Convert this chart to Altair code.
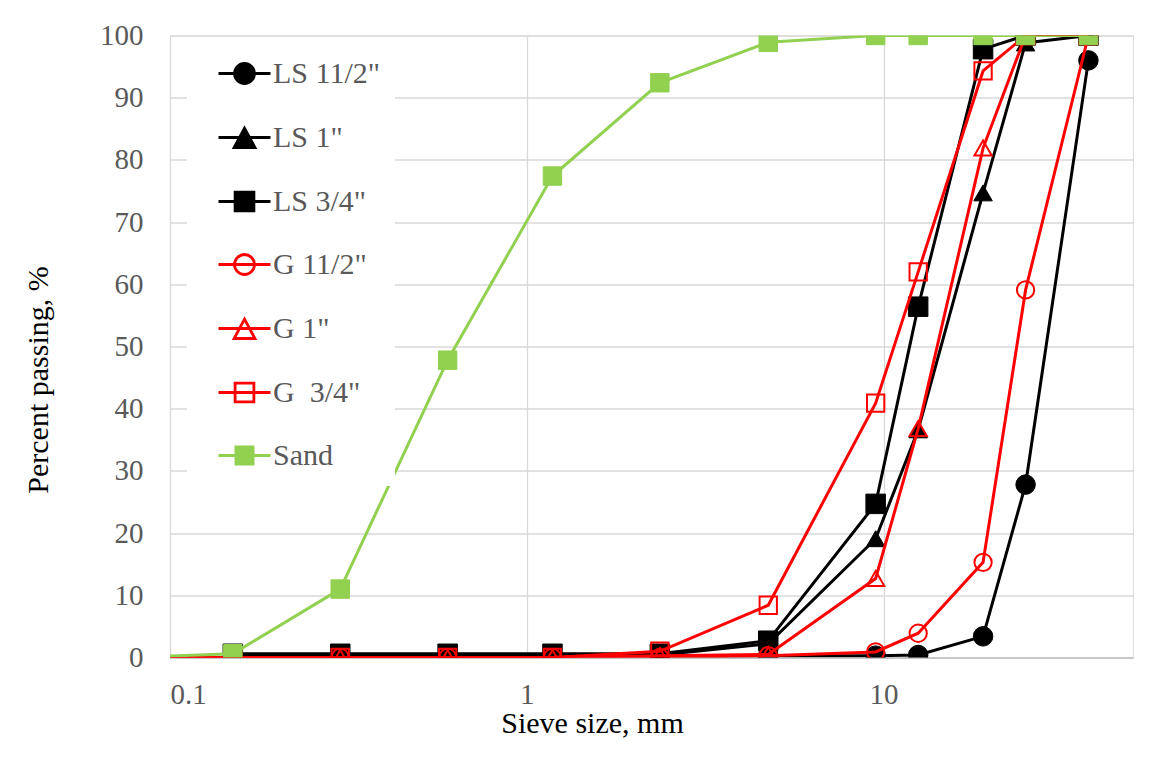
import altair as alt
import pandas as pd

# ---- data ----
sieve_mm = [0.075, 0.15, 0.3, 0.6, 1.18, 2.36, 4.75, 9.5, 12.5, 19, 25, 37.5]
series_names = ['LS 11/2"', 'LS 1"', 'LS 3/4"', 'G 11/2"', 'G 1"', 'G\u00a0 3/4"', 'Sand']
ls_1_5 = [None, 0.3, 0.3, 0.3, 0.3, 0.3, 0.3, 0.3, 0.4, 3.4, 27.8, 96.0]
ls_1 = [None, 0.4, 0.4, 0.4, 0.4, 0.4, 2.2, 19.1, 36.6, 74.7, 98.8, 100]
ls_3_4 = [None, 0.6, 0.6, 0.6, 0.6, 0.6, 2.7, 24.7, 56.4, 97.8, 100, 100]
g_1_5 = [0, 0, 0, 0, 0, 0, 0.3, 0.9, 3.9, 15.3, 59.1, 100]
g_1 = [0, 0, 0, 0, 0, 0.3, 0.5, 12.7, 36.8, 81.9, 100, 100]
g_3_4 = [0, 0, 0, 0, 0, 1.0, 8.4, 40.9, 62.0, 94.3, 100, 100]
sand = [0, 0.6, 11.0, 47.8, 77.4, 92.4, 98.9, 100, 100, 100, 100, 100]
x_ticks = [0.1, 1, 10]
y_ticks = [0, 10, 20, 30, 40, 50, 60, 70, 80, 90, 100]

values = [ls_1_5, ls_1, ls_3_4, g_1_5, g_1, g_3_4, sand]
rows = []
for name, vals in zip(series_names, values):
    for s, v in zip(sieve_mm, vals):
        if v is not None:
            rows.append({"series": name, "size": s, "pct": v})
df = pd.DataFrame(rows)

# ---- styles ----
BLACK, RED, GREEN = "#000000", "#FF0000", "#92D050"
colors = [BLACK, BLACK, BLACK, RED, RED, RED, GREEN]
shapes = ["circle", "triangle-up", "square", "circle", "triangle-up", "square", "square"]
filled = [True, True, True, False, False, False, True]
sizes = [380, 340, 380, 300, 300, 300, 340]

xscale = alt.Scale(type="log", domain=[0.1, 50], nice=False)
yscale = alt.Scale(domain=[0, 100], nice=False)

FONT = "Liberation Serif"

x_enc = alt.X(
    "size:Q", scale=xscale,
    axis=alt.Axis(
        values=x_ticks, labelExpr="format(datum.value, '~g')",
        title="Sieve size, mm", titleFont=FONT, titleFontSize=30, titleFontWeight="normal",
        titleColor="#000000", titleX=422, titleY=75, titleBaseline="alphabetic",
        titleAnchor="start", titleAlign="center",
        labelFont=FONT, labelFontSize=29, labelColor="#595959", labelPadding=23,
        ticks=False, domain=True, domainColor="#BFBFBF", domainWidth=1.3,
        grid=True, gridColor="#D9D9D9", gridWidth=1.3,
    ),
)
y_enc = alt.Y(
    "pct:Q", scale=yscale,
    axis=alt.Axis(
        values=y_ticks,
        title="Percent passing, %", titleFont=FONT, titleFontSize=30, titleFontWeight="normal",
        titleColor="#000000", titleX=-123, titleY=344, titleBaseline="alphabetic",
        titleAlign="center", titleAngle=270,
        labelFont=FONT, labelFontSize=29, labelColor="#595959", labelPadding=27,
        ticks=False, domain=False,
        grid=True, gridColor="#D9D9D9", gridWidth=1.3,
    ),
)

base = alt.Chart(df)
layers = []
for name, c, shp, fl, sz in zip(series_names, colors, shapes, filled, sizes):
    sub = base.transform_filter(alt.datum.series == name)
    line = sub.mark_line(color=c, strokeWidth=3, clip=True).encode(x=x_enc, y=y_enc)
    if fl:
        pt = sub.mark_point(shape=shp, filled=True, fill=c, stroke=c, strokeWidth=1,
                            size=sz, opacity=1, clip=True)
    else:
        pt = sub.mark_point(shape=shp, filled=False, fill="transparent", stroke=c,
                            strokeWidth=2, size=sz, opacity=1, clip=True)
    layers += [line, pt.encode(x=x_enc, y=y_enc)]

# ---- legend (symbols: line segment + marker) ----
circ = "M-1.3,0H1.3M0.5,0A0.5,0.5,0,1,1,-0.5,0A0.5,0.5,0,1,1,0.5,0Z"
tri = "M-1.3,0H1.3M0,-0.47L0.52,0.5L-0.52,0.5Z"
sq = "M-1.3,0H1.3M-0.47,-0.47H0.47V0.47H-0.47Z"
sqs = "M-1.3,0H1.3M-0.43,-0.43H0.43V0.43H-0.43Z"
legend_paths = [circ, tri, sq, circ, tri, sq, sqs]
legend_fills = [c if f else "transparent" for c, f in zip(colors, filled)]

leg = alt.Legend(
    title=None, orient="none", legendX=17, legendY=1.5,
    fillColor="#FFFFFF", padding=15, rowPadding=26,
    symbolSize=1600, symbolStrokeWidth=2.8, symbolOffset=21,
    labelFont=FONT, labelFontSize=30, labelColor="#595959", labelOffset=7, labelLimit=0,
)
legend_layer = base.transform_filter("false").mark_point(size=1600, strokeWidth=2.8, opacity=1).encode(
    x=x_enc, y=y_enc,
    shape=alt.Shape("series:N", scale=alt.Scale(domain=series_names, range=legend_paths), legend=leg),
    fill=alt.Fill("series:N", scale=alt.Scale(domain=series_names, range=legend_fills), legend=leg),
    stroke=alt.Stroke("series:N", scale=alt.Scale(domain=series_names, range=colors), legend=leg),
)
layers.append(legend_layer)

chart = alt.layer(*layers).properties(
    width=963, height=622,
    autosize=alt.AutoSizeParams(type="none"),
    padding={"left": 162, "top": 27.5, "right": 12, "bottom": 91},
).configure_view(stroke=None).configure(background="#FFFFFF")

chart.save("out.html", embed_options={"renderer": "svg", "actions": False})
